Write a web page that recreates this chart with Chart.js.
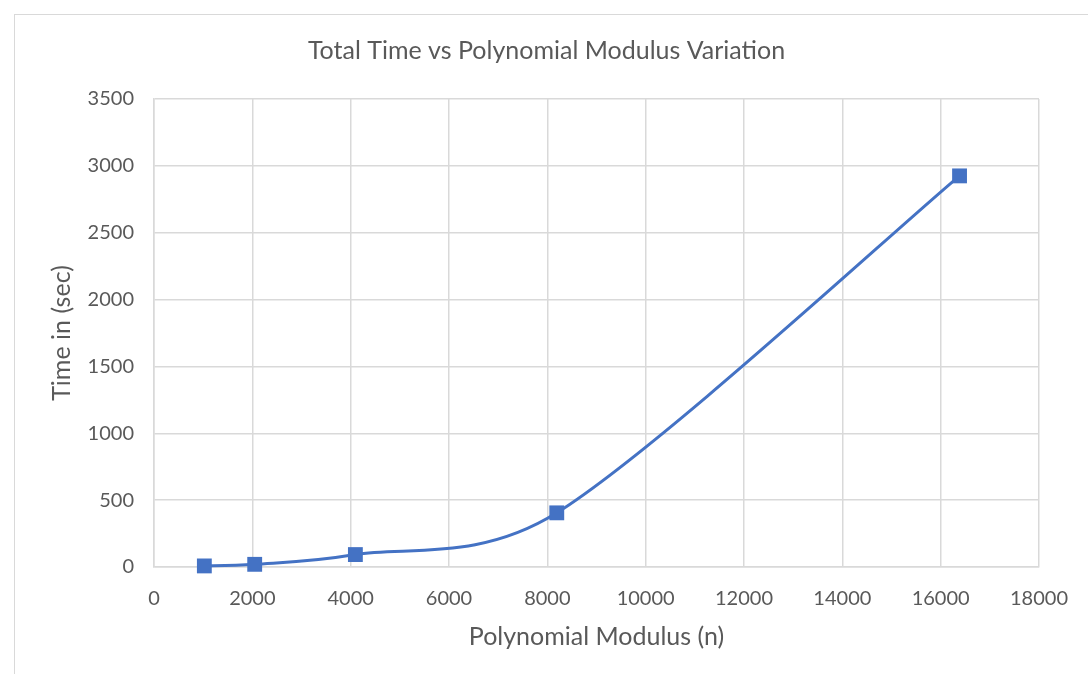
<!DOCTYPE html>
<html>
<head>
<meta charset="utf-8">
<script src="https://cdn.jsdelivr.net/npm/chart.js@4.4.0/dist/chart.umd.min.js"></script>
<style>
  html, body { margin: 0; padding: 0; background: #fff; }
  #wrap { position: relative; width: 1088px; height: 674px; overflow: hidden; }
  #frame { position: absolute; left: 14px; top: 14px; width: 1100px; height: 700px; border: 1px solid #d9d9d9; box-sizing: border-box; }
  canvas { position: absolute; left: 0; top: 0; }
</style>
</head>
<body>
<div id="wrap">
  <div id="frame"></div>
  <canvas id="chart" width="1088" height="674"></canvas>
</div>
<script>
/* Total time by polynomial modulus */
const MODULUS = [1024, 2048, 4096, 8192, 16384];
const TIME_SEC = [8, 20, 93, 405, 2925];
const X_TICKS = { min: 0, max: 18000, step: 2000 };
const Y_TICKS = { min: 0, max: 3500, step: 500 };

const BLUE = '#4472c4';
const GRID = '#d9d9d9';
const TEXT = '#595959';
const FONT = 'Lato, "Liberation Sans", sans-serif';

const PLOT = { left: 154, right: 1041, top: 99, bottom: 567 };
const PAD = { left: 47, right: 42, bottom: 22 };

Chart.defaults.font.family = FONT;
Chart.defaults.color = TEXT;

const plain = v => String(v);

// Spreadsheet-style smoothing: control handles at 1/6 of the neighbour chord,
// each one capped to a share of the segment it belongs to so short segments
// next to long ones don't overshoot.
const HANDLE_CAP = 0.45;
const smoothLine = {
  id: 'smoothLine',
  beforeDatasetDraw(chart, args) {
    const meta = args.meta;
    const line = meta.dataset;
    if (!line) return;
    line.updateControlPoints(chart.chartArea, meta.iScale.axis);
    const pts = meta.data;
    const n = pts.length;
    const handle = (p, q, dx, dy, sign) => {
      const seg = Math.hypot(q.x - p.x, q.y - p.y);
      const len = Math.hypot(dx, dy) || 1;
      const s = Math.min(1, HANDLE_CAP * seg / len);
      return [p.x + sign * dx * s, p.y + sign * dy * s];
    };
    for (let i = 0; i < n; i++) {
      const p = pts[i];
      const prev = pts[Math.max(i - 1, 0)];
      const next = pts[Math.min(i + 1, n - 1)];
      const dx = (next.x - prev.x) / 6;
      const dy = (next.y - prev.y) / 6;
      [p.cp1x, p.cp1y] = handle(p, prev, dx, dy, -1);
      [p.cp2x, p.cp2y] = handle(p, next, dx, dy, 1);
    }
    line._path = undefined;
  }
};

new Chart(document.getElementById('chart'), {
  type: 'line',
  data: {
    datasets: [{
      label: 'Total Time',
      data: MODULUS.map((n, i) => ({ x: n, y: TIME_SEC[i] })),
      tension: 0.4,
      fill: false,
      clip: false,
      borderColor: BLUE,
      backgroundColor: BLUE,
      borderWidth: 3,
      pointStyle: 'rect',
      pointRadius: 10.5,
      pointBorderWidth: 0,
      pointBackgroundColor: BLUE,
    }]
  },
  plugins: [smoothLine],
  options: {
    responsive: false,
    animation: false,
    layout: { padding: { left: PAD.left, right: PAD.right, top: 0, bottom: PAD.bottom } },
    plugins: {
      legend: { display: false },
      tooltip: { enabled: false },
      title: {
        display: true,
        text: 'Total Time vs Polynomial Modulus Variation',
        color: TEXT,
        font: { size: 25, weight: 'normal' },
        padding: { top: 36, bottom: 33 },
      },
    },
    scales: {
      x: {
        type: 'linear',
        min: X_TICKS.min,
        max: X_TICKS.max,
        ticks: { stepSize: X_TICKS.step, padding: 20, font: { size: 20 }, color: TEXT, callback: plain },
        grid: { color: GRID, lineWidth: 1.5, drawTicks: false },
        border: { color: GRID, width: 1.5 },
        title: { display: true, text: 'Polynomial Modulus (n)', font: { size: 25 }, color: TEXT, padding: { top: 0, bottom: 0 } },
        afterFit: s => { s.height = 674 - PAD.bottom - PLOT.bottom; },
      },
      y: {
        min: Y_TICKS.min,
        max: Y_TICKS.max,
        ticks: { stepSize: Y_TICKS.step, padding: 20, font: { size: 20 }, color: TEXT, callback: plain },
        grid: { color: GRID, lineWidth: 1.5, drawTicks: false },
        border: { color: GRID, width: 1.5 },
        title: { display: true, text: 'Time in (sec)', font: { size: 25 }, color: TEXT, padding: { top: 0, bottom: 0 } },
        afterFit: s => { s.width = PLOT.left - PAD.left; },
      }
    }
  }
});
</script>
</body>
</html>
